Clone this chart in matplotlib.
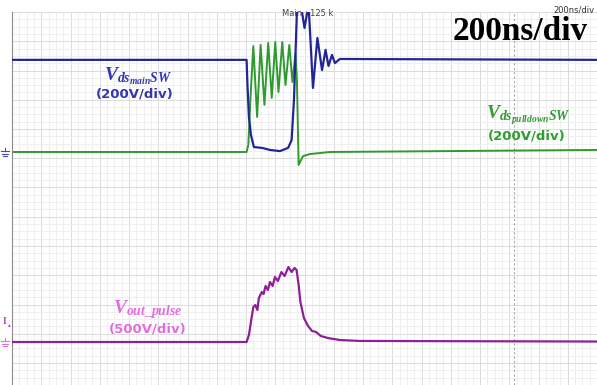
import numpy as np
import matplotlib
matplotlib.use("Agg")
import matplotlib.pyplot as plt
from matplotlib.lines import Line2D

# Tektronix-style capture, 200 ns/div
# time in ns, voltage in V
main_t = [0, 802, 805, 810, 817, 827, 855, 882, 916, 944, 956, 964, 974, 985,
          1000, 1014, 1029, 1044, 1060, 1072, 1082, 1094, 1104, 1121, 2000]
main_v = [315, 315, 229, 120, 58, 17, 14, 7, 3, 14, 41, 178, 479, 520,
          424, 503, 219, 390, 280, 349, 294, 332, 304, 318, 315]

pull_t = [0, 802, 808, 815, 825, 838, 850, 863, 876, 888, 900, 911, 924, 935,
          948, 959, 969, 974, 980, 985, 995, 1019, 1087, 2000]
pull_v = [0, 0, 24, 178, 362, 120, 366, 161, 373, 185, 376, 205, 376, 229,
          366, 239, 338, 246, -44, -34, -14, -7, 0, 7]

out_t = [0, 802, 810, 819, 825, 832, 839, 844, 854, 860, 867, 875, 882, 891,
         899, 909, 921, 932, 945, 956, 966, 973, 980, 986, 998, 1012, 1026,
         1039, 1056, 1080, 1121, 1190, 2000]
out_v = [0, 0, 60, 205, 299, 316, 274, 376, 427, 410, 479, 444, 513, 479,
         556, 521, 598, 564, 641, 598, 633, 615, 487, 342, 205, 137, 94,
         86, 51, 34, 17, 9, 4]

ch_scale = {"main": 200, "pull": 200, "out": 500}   # V/div
ch_ground = {"main": 3.983, "pull": 3.983, "out": 0.735}  # div from bottom
cursor_t = 1716

W, H = 597, 385
fig = plt.figure(figsize=(W / 100, H / 100), dpi=100)
fig.patch.set_facecolor("white")
ax = fig.add_axes([12 / W, 0, 585 / W, 373 / H])
ytop = 373 / 58.5
ax.set_xlim(0, 2000)
ax.set_ylim(0, ytop)

# graticule
for t in np.arange(0, 2001, 25):
    c = "#d6d6d6" if t % 100 == 0 else "#ececec"
    ax.axvline(t, color=c, lw=0.6, zorder=0)
for k in range(0, 52):
    y = ytop - k * 0.125
    c = "#d6d6d6" if k % 4 == 0 else "#ececec"
    ax.axhline(y, color=c, lw=0.6, zorder=0)
ax.axvline(cursor_t, color="#a8a8a8", lw=0.8, ls=(0, (2, 2)), zorder=1)

for s in ax.spines.values():
    s.set_visible(False)
ax.spines["left"].set_visible(True)
ax.spines["left"].set_color("#8a8a8a")
ax.set_xticks([])
ax.set_yticks([])

ax.plot(main_t, ch_ground["main"] + np.array(main_v) / ch_scale["main"],
        color="#24249a", lw=1.6, zorder=3)
ax.plot(pull_t, ch_ground["pull"] + np.array(pull_v) / ch_scale["pull"],
        color="#2f9a2f", lw=1.4, zorder=2)
ax.plot(out_t, ch_ground["out"] + np.array(out_v) / ch_scale["out"],
        color="#8e1f98", lw=1.6, zorder=3)

plt.rcParams["mathtext.fontset"] = "custom"
plt.rcParams["mathtext.it"] = "Liberation Serif:bold:italic"
plt.rcParams["mathtext.rm"] = "Liberation Serif:bold"


def ftxt(x, y, s, **kw):
    fig.text(x / W, 1 - y / H, s, ha="center", va="center", **kw)


ftxt(138, 76, r"$V_{ds_{main}SW}$", color="#3535b5", fontsize=14)
ftxt(135, 94, "(200V/div)", color="#3535b5", fontsize=9.5, fontweight="bold")
ftxt(528, 115, r"$V_{ds_{pulldown}SW}$", color="#2e9e2e", fontsize=14)
ftxt(527, 136, "(200V/div)", color="#2e9e2e", fontsize=9.5, fontweight="bold")
ftxt(148, 310, r"$V_{out\_pulse}$", color="#e06ee0", fontsize=14)
ftxt(148, 329, "(500V/div)", color="#e06ee0", fontsize=9.5, fontweight="bold")

fig.text(595 / W, 1 - 10 / H, "200ns/div", color="#333333", fontsize=6,
         ha="right", va="center")
ftxt(520, 31, "200ns/div", color="black", fontsize=24, fontweight="bold",
     family="Liberation Serif")
fig.text(282 / W, 1 - 14 / H, "Main : 125 k", color="#444444", fontsize=6,
         va="center", ha="left")


def ground(y, color):
    segs = [(1, 9, y), (2, 8, y + 2.5), (3, 7, y + 5)]
    fig.add_artist(Line2D([5 / W, 5 / W], [1 - (y - 3) / H, 1 - y / H],
                          color=color, lw=0.8, transform=fig.transFigure))
    for x0, x1, yy in segs:
        fig.add_artist(Line2D([x0 / W, x1 / W], [1 - yy / H, 1 - yy / H],
                              color=color, lw=0.8, transform=fig.transFigure))


ground(151, "#4a4ac0")
ground(341, "#e06ee0")
ftxt(5, 322, "I", color="#c040c0", fontsize=7, fontweight="bold",
     family="Liberation Serif")
ftxt(9, 325, "\u25b4", color="#c040c0", fontsize=4)

fig.savefig("out.png", dpi=100)
